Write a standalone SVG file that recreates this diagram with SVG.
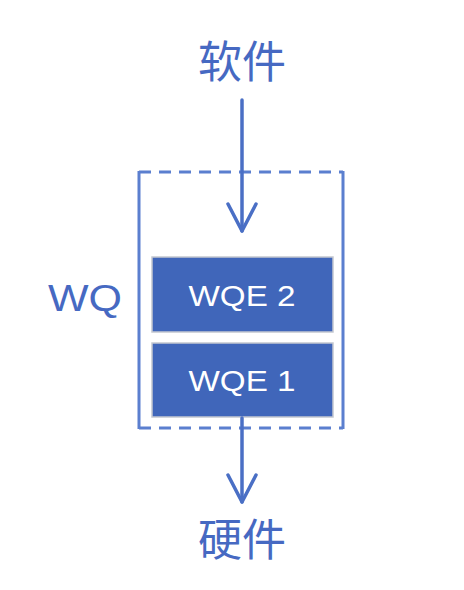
<svg xmlns="http://www.w3.org/2000/svg" width="464" height="590" viewBox="0 0 464 590">
<defs>
<style>
.lbl{font-family:"Noto Sans CJK SC","Noto Sans",sans-serif;fill:#4669c2;}
.wq{font-family:"Liberation Sans","Noto Sans",sans-serif;fill:#4669c2;}
.wqe{font-family:"Liberation Sans","Noto Sans",sans-serif;fill:#ffffff;font-size:30px;text-anchor:middle;}
.box{fill:#4066ba;stroke:#c4c8d0;stroke-width:1.5;}
.side{stroke:#5b7fcf;stroke-width:3;fill:none;}
.dash{stroke:#5b7fcf;stroke-width:3;fill:none;stroke-dasharray:12 8;}
.arr{stroke:#4a6fc5;stroke-width:3.5;fill:none;stroke-linecap:round;stroke-linejoin:round;}
</style>
</defs>
<rect width="464" height="590" fill="#ffffff"/>
<g id="software"><text class="lbl" x="242" y="78" font-size="44" text-anchor="middle">软件</text></g>
<g id="hardware"><text class="lbl" x="242" y="556" font-size="44" text-anchor="middle">硬件</text></g>
<g id="wq-label"><text class="wq" x="48" y="311" font-size="36" textLength="74" lengthAdjust="spacingAndGlyphs">WQ</text></g>
<g id="wq">
<line class="side" x1="139" y1="171" x2="139" y2="429"/>
<line class="side" x1="343" y1="171" x2="343" y2="429"/>
<line class="dash" x1="139" y1="172" x2="343" y2="172"/>
<line class="dash" x1="139" y1="428" x2="343" y2="428"/>
</g>
<g id="wqe2">
<rect class="box" x="152" y="257" width="181" height="75"/>
<text class="wqe" x="242" y="306" textLength="107" lengthAdjust="spacingAndGlyphs">WQE 2</text>
</g>
<g id="wqe1">
<rect class="box" x="152" y="343" width="181" height="74"/>
<text class="wqe" x="242" y="391" textLength="107" lengthAdjust="spacingAndGlyphs">WQE 1</text>
</g>
<g id="connectors">
<line class="arr" x1="242" y1="100" x2="242" y2="231"/>
<polyline class="arr" points="228,204 242,231 256,204"/>
<line class="arr" x1="242" y1="418" x2="242" y2="502"/>
<polyline class="arr" points="228,475 242,502 256,475"/>
</g>
</svg>
